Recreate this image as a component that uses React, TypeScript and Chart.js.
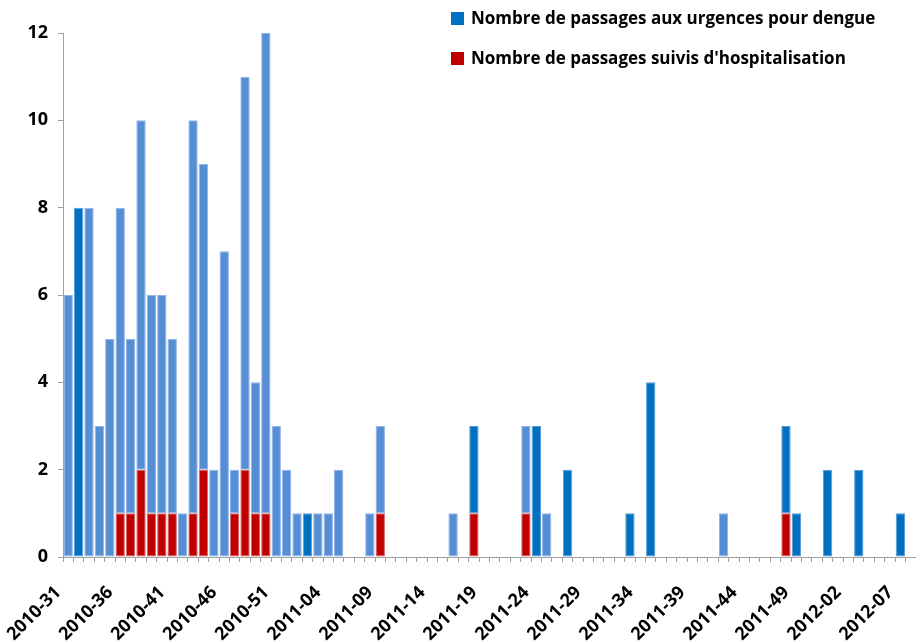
import { useEffect, useRef } from 'react';
import { Chart, registerables } from 'chart.js';

Chart.register(...registerables);

const weeks: string[] = [
  '2010-31', '2010-32', '2010-33', '2010-34', '2010-35', '2010-36', '2010-37', '2010-38', '2010-39', '2010-40',
  '2010-41', '2010-42', '2010-43', '2010-44', '2010-45', '2010-46', '2010-47', '2010-48', '2010-49', '2010-50',
  '2010-51', '2010-52',
  '2011-01', '2011-02', '2011-03', '2011-04', '2011-05', '2011-06', '2011-07', '2011-08', '2011-09', '2011-10',
  '2011-11', '2011-12', '2011-13', '2011-14', '2011-15', '2011-16', '2011-17', '2011-18', '2011-19', '2011-20',
  '2011-21', '2011-22', '2011-23', '2011-24', '2011-25', '2011-26', '2011-27', '2011-28', '2011-29', '2011-30',
  '2011-31', '2011-32', '2011-33', '2011-34', '2011-35', '2011-36', '2011-37', '2011-38', '2011-39', '2011-40',
  '2011-41', '2011-42', '2011-43', '2011-44', '2011-45', '2011-46', '2011-47', '2011-48', '2011-49', '2011-50',
  '2011-51', '2011-52',
  '2012-01', '2012-02', '2012-03', '2012-04', '2012-05', '2012-06', '2012-07', '2012-08',
];

// total emergency visits for dengue per week
const totalVisits: number[] = [
  6, 8, 8, 3, 5, 8, 5, 10, 6, 6,
  5, 1, 10, 9, 2, 7, 2, 11, 4, 12,
  3, 2,
  1, 1, 1, 1, 2, 0, 0, 1, 3, 0,
  0, 0, 0, 0, 0, 1, 0, 3, 0, 0,
  0, 0, 3, 3, 1, 0, 2, 0, 0, 0,
  0, 0, 1, 0, 4, 0, 0, 0, 0, 0,
  0, 1, 0, 0, 0, 0, 0, 3, 1, 0,
  0, 2,
  0, 0, 2, 0, 0, 0, 1, 0,
];

// visits followed by hospitalisation per week
const hospitalisations: number[] = [
  0, 0, 0, 0, 0, 1, 1, 2, 1, 1,
  1, 0, 1, 2, 0, 0, 1, 2, 1, 1,
  0, 0,
  0, 0, 0, 0, 0, 0, 0, 0, 1, 0,
  0, 0, 0, 0, 0, 0, 0, 1, 0, 0,
  0, 0, 1, 0, 0, 0, 0, 0, 0, 0,
  0, 0, 0, 0, 0, 0, 0, 0, 0, 0,
  0, 0, 0, 0, 0, 0, 0, 1, 0, 0,
  0, 0,
  0, 0, 0, 0, 0, 0, 0, 0,
];

// weeks whose blue bar is drawn in the darker shade
const darkWeekIndices: number[] = [1, 23, 39, 45, 48, 54, 56, 69, 70, 73, 76, 80];

const yTickValues: number[] = [0, 2, 4, 6, 8, 10, 12];
const labelEvery = 5;

const legendLabels: string[] = [
  'Nombre de passages aux urgences pour dengue',
  "Nombre de passages suivis d'hospitalisation",
];

const DARK_BLUE = '#0070C0';
const LIGHT_BLUE = '#558ED5';
const RED = '#C00000';
const FONT = "'Open Sans', 'Noto Sans', sans-serif";

const legendPlugin = {
  id: 'floatingLegend',
  afterDraw(chart: any) {
    const ctx = chart.ctx as CanvasRenderingContext2D;
    const rows = [
      { color: DARK_BLUE, text: legendLabels[0], y: 19 },
      { color: RED, text: legendLabels[1], y: 59 },
    ];
    ctx.save();
    ctx.font = `700 17px ${FONT}`;
    ctx.textBaseline = 'middle';
    ctx.textAlign = 'left';
    rows.forEach((r) => {
      ctx.fillStyle = r.color;
      ctx.fillRect(451, r.y - 7, 13, 13);
      ctx.fillStyle = '#000';
      ctx.fillText(r.text, 471, r.y);
    });
    ctx.restore();
  },
};

export default function App() {
  const ref = useRef<HTMLCanvasElement | null>(null);

  useEffect(() => {
    if (!ref.current) return;
    const blueValues = totalVisits.map((t, i) => {
      const v = t - hospitalisations[i];
      return v > 0 ? v : null;
    });
    const redValues = hospitalisations.map((v) => (v > 0 ? v : null));
    const blueColors = weeks.map((_, i) => (darkWeekIndices.includes(i) ? DARK_BLUE : LIGHT_BLUE));
    const blueBorders = weeks.map((_, i) => (darkWeekIndices.includes(i) ? '#5A9BD8' : '#8FB4E6'));

    const chart = new Chart(ref.current, {
      type: 'bar',
      data: {
        labels: weeks,
        datasets: [
          {
            label: legendLabels[1],
            data: redValues,
            backgroundColor: RED,
            borderColor: '#D86A6A',
            borderWidth: 1,
            borderSkipped: false,
            categoryPercentage: 1,
            barPercentage: 0.9,
          },
          {
            label: legendLabels[0],
            data: blueValues,
            backgroundColor: blueColors,
            borderColor: blueBorders,
            borderWidth: 1,
            borderSkipped: false,
            categoryPercentage: 1,
            barPercentage: 0.9,
          },
        ],
      },
      options: {
        animation: false,
        responsive: true,
        maintainAspectRatio: false,
        layout: { padding: { top: 33, left: 0, right: 0, bottom: 0 } },
        plugins: {
          legend: { display: false },
          tooltip: { enabled: false },
        },
        scales: {
          x: {
            stacked: true,
            offset: true,
            grid: {
              display: true,
              offset: true,
              drawOnChartArea: false,
              drawTicks: true,
              tickLength: 5,
              color: '#A0A0A0',
            },
            border: { display: true, color: '#A0A0A0', width: 1 },
            ticks: {
              autoSkip: false,
              minRotation: 45,
              maxRotation: 45,
              padding: 20,
              labelOffset: -10,
              color: '#000',
              font: { family: FONT, size: 18, weight: 700 },
              callback: (_v: any, i: number) => (i % labelEvery === 0 ? weeks[i] : ''),
            },
            afterFit: (scale: any) => {
              scale.height = 86;
              scale.paddingLeft = 0;
              scale.paddingRight = 0;
            },
          },
          y: {
            stacked: true,
            min: 0,
            max: 12,
            grid: {
              display: true,
              drawOnChartArea: false,
              drawTicks: true,
              tickLength: 5,
              color: '#A0A0A0',
            },
            border: { display: true, color: '#A0A0A0', width: 1 },
            afterBuildTicks: (scale: any) => {
              scale.ticks = yTickValues.map((v) => ({ value: v }));
            },
            ticks: {
              padding: 10,
              color: '#000',
              font: { family: FONT, size: 18, weight: 700 },
            },
            afterFit: (scale: any) => {
              scale.width = 63;
              scale.paddingTop = 0;
              scale.paddingBottom = 0;
            },
          },
        },
      },
      plugins: [legendPlugin],
    });
    return () => chart.destroy();
  }, []);

  return (
    <div style={{ position: 'fixed', left: 0, top: 0, width: 916, height: 643, background: '#fff' }}>
      <canvas ref={ref} />
    </div>
  );
}
